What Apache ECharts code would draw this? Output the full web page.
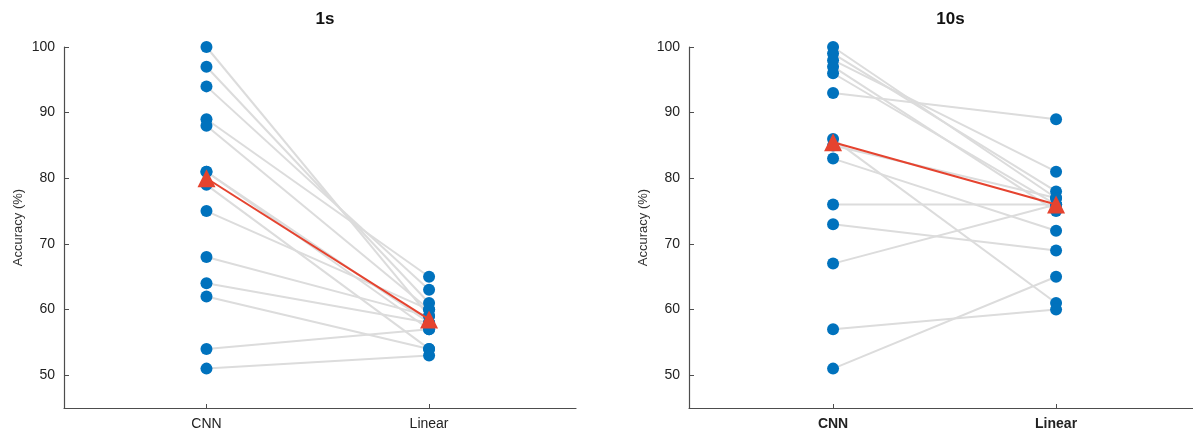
<!DOCTYPE html>
<html>
<head>
<meta charset="utf-8">
<style>
  html, body { margin: 0; padding: 0; background: #fff; }
  #chart { width: 1193px; height: 436px; }
</style>
<script src="https://cdn.jsdelivr.net/npm/echarts@6/dist/echarts.min.js"></script>
</head>
<body>
<div id="chart"></div>
<script>
// Paired accuracy per subject: CNN vs Linear decoder, two window lengths
const categories = ['CNN', 'Linear'];
const panelTitles = ['1s', '10s'];
const yTicks = [50, 60, 70, 80, 90, 100];

const cnn1s    = [100, 97, 94, 89, 88, 81, 81, 79, 75, 68, 64, 62, 54, 51];
const linear1s = [ 59, 61, 63, 65, 60, 58, 57, 54, 60, 59, 58, 54, 57, 53];

const cnn10s    = [100, 99, 98, 97, 96, 93, 86, 85, 83, 76, 73, 67, 57, 51];
const linear10s = [ 77, 78, 81, 75, 76, 89, 61, 77, 72, 76, 69, 76, 60, 65];

function median(arr) {
  const s = arr.slice().sort((a, b) => a - b);
  const m = s.length >> 1;
  return s.length % 2 ? s[m] : (s[m - 1] + s[m]) / 2;
}

const FONT = '"Liberation Sans", Arial, Helvetica, sans-serif';
const AXIS_COLOR = '#4d4d4d';
const DOT_COLOR = '#0072BD';
const MEDIAN_COLOR = '#E5432F';
const PAIR_COLOR = '#DCDCDC';

// the right panel runs off the canvas edge, so its x range is trimmed instead
const panels = [
  { cnn: cnn1s, lin: linear1s, left: 64, width: 512, xMin: 0.36, xMax: 2.66, boldX: false },
  { cnn: cnn10s, lin: linear10s, left: 689, width: 504, xMin: 0.354, xMax: 2.614, boldX: true }
];

const grids = [], xAxes = [], yAxes = [], series = [], titles = [];

panels.forEach((p, i) => {
  grids.push({ left: p.left, top: 47, width: p.width, height: 361 });
  const fullWidth = p.width * (2.3 / (p.xMax - p.xMin));
  titles.push({
    text: panelTitles[i],
    left: p.left + fullWidth / 2,
    top: 6,
    textAlign: 'center',
    textStyle: { fontFamily: FONT, fontSize: 17, fontWeight: 'bold', color: '#111' }
  });
  xAxes.push({
    gridIndex: i, type: 'value', min: p.xMin, max: p.xMax,
    splitLine: { show: false },
    axisLine: { lineStyle: { color: AXIS_COLOR, width: 1.2 } },
    axisTick: { inside: true, length: 4, customValues: [1, 2], lineStyle: { color: AXIS_COLOR } },
    axisLabel: {
      customValues: [1, 2], margin: 9,
      formatter: v => categories[Math.round(v) - 1] || '',
      fontFamily: FONT, fontSize: 14, color: '#222',
      fontWeight: p.boldX ? 'bold' : 'normal'
    }
  });
  yAxes.push({
    gridIndex: i, type: 'value', min: 45, max: 100,
    name: 'Accuracy (%)', nameLocation: 'middle', nameGap: 39, nameRotate: 90,
    nameTextStyle: { fontFamily: FONT, fontSize: 13, color: '#333' },
    splitLine: { show: false },
    axisLine: { show: true, lineStyle: { color: AXIS_COLOR, width: 1.2 } },
    axisTick: { show: true, inside: true, length: 5, customValues: yTicks, lineStyle: { color: AXIS_COLOR } },
    axisLabel: { customValues: yTicks, margin: 9, fontFamily: FONT, fontSize: 14, color: '#222' }
  });

  // one grey segment per subject
  p.cnn.forEach((v, k) => {
    series.push({
      type: 'line', xAxisIndex: i, yAxisIndex: i, silent: true, z: 1,
      symbol: 'none', animation: false,
      lineStyle: { color: PAIR_COLOR, width: 2 },
      data: [[1, v], [2, p.lin[k]]]
    });
  });

  // subject dots
  series.push({
    type: 'scatter', xAxisIndex: i, yAxisIndex: i, z: 2, animation: false,
    symbolSize: 12, itemStyle: { color: DOT_COLOR, opacity: 1 },
    data: p.cnn.map(v => [1, v]).concat(p.lin.map(v => [2, v]))
  });

  // group medians
  series.push({
    type: 'line', xAxisIndex: i, yAxisIndex: i, z: 3, animation: false,
    symbol: 'triangle', symbolSize: 18, showSymbol: true,
    lineStyle: { color: MEDIAN_COLOR, width: 2 },
    itemStyle: { color: MEDIAN_COLOR, borderWidth: 0 },
    data: [[1, median(p.cnn)], [2, median(p.lin)]]
  });
});

const chart = echarts.init(document.getElementById('chart'), null, { renderer: 'canvas' });
chart.setOption({
  backgroundColor: '#fff',
  animation: false,
  title: titles,
  grid: grids,
  xAxis: xAxes,
  yAxis: yAxes,
  series: series
});
</script>
</body>
</html>
